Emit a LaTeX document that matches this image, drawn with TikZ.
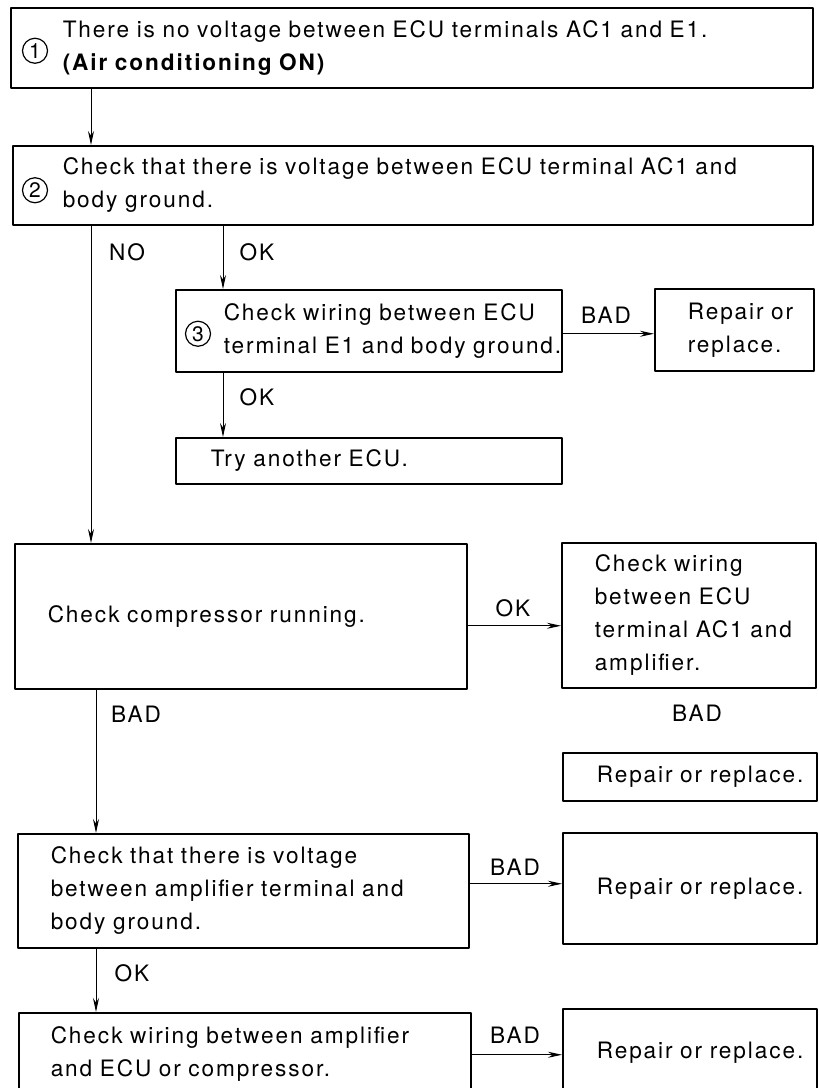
\documentclass[tikz,border=0pt]{standalone}
\usepackage{fontspec}
\setmainfont{TeX Gyre Heros}[LetterSpace=8.5]
\usetikzlibrary{arrows.meta, positioning, calc}

\begin{document}
\begin{tikzpicture}[
  x=0.5pt, y=-0.5pt,
  line cap=round, line join=round,
  font=\fontsize{11.3}{16.5}\selectfont,
  box/.style={draw, line width=0.75pt, anchor=north west, align=left, inner ysep=0pt},
  num/.style={circle, draw, line width=0.6pt, inner sep=0pt, minimum size=12.5pt, font=\fontsize{10.5}{10.5}\selectfont},
  lbl/.style={inner sep=0pt},
  flow/.style={line width=0.5pt, -{Stealth[length=7pt, width=3pt]}}
]
  \useasboundingbox (0,0) rectangle (819,1088);
  \clip (0,0) rectangle (819,1088);

  % step boxes
  \node[box, minimum height=40pt, inner xsep=26pt, text width=349pt] (b1) at (10,7)
    {There is no voltage between ECU terminals AC1 and E1.\\ \textbf{(Air conditioning ON)}};
  \node[box, minimum height=39.5pt, inner xsep=25pt, text width=350pt] (b2) at (12,145)
    {\mbox{Check that there is voltage between ECU terminal AC1 and}\\ body ground.};
  \node[box, minimum height=41pt, inner xsep=24pt, text width=145pt] (wire) at (175,289)
    {\mbox{Check wiring between ECU}\\ \mbox{terminal E1 and body ground.}};
  \node[box, minimum height=41pt, inner xsep=16.5pt, text width=46.5pt] (repA) at (654,288)
    {\mbox{Repair or}\\ replace.};
  \node[box, minimum height=23pt, inner xsep=17.5pt, text width=158pt] (try) at (175,437)
    {Try another ECU.};
  \node[box, minimum height=72.5pt, inner xsep=16.5pt, text width=193pt] (comp) at (14,543)
    {Check compressor running.};
  \node[box, minimum height=72.5pt, inner xsep=16.5pt, text width=94pt] (wireAC) at (561,542)
    {\mbox{Check wiring}\\ \mbox{between ECU}\\ \mbox{terminal AC1 and}\\ amplifier.};
  \node[box, minimum height=24pt, inner xsep=17pt, text width=93pt] (repB) at (562,752)
    {\mbox{Repair or replace.}};
  \node[box, minimum height=57pt, inner xsep=16.5pt, text width=192.5pt] (amp) at (17,833)
    {\mbox{Check that there is voltage}\\ \mbox{between amplifier terminal and}\\ body ground.};
  \node[box, minimum height=55.5pt, inner xsep=17pt, text width=93pt] (repC) at (562,832)
    {\mbox{Repair or replace.}};
  \node[box, minimum height=41pt, inner xsep=16pt, text width=194pt] (last) at (18,1012)
    {\mbox{Check wiring between amplifier}\\ \mbox{and ECU or compressor.}};
  \node[box, minimum height=44pt, inner xsep=17pt, text width=93pt] (repD) at (562,1008)
    {\mbox{Repair or replace.}};

  % circled step numbers
  \node[num] (n1) at ([xshift=12.5pt, yshift=-1.5pt]b1.west) {1};
  \node[num] (n2) at ([xshift=11.5pt, yshift=-2.5pt]b2.west) {2};
  \node[num] (n3) at ([xshift=11.5pt, yshift=-1.5pt]wire.west) {3};

  % columns of the vertical links
  \coordinate (xa) at (91,0);
  \coordinate (xb) at (223,0);
  \coordinate (xc) at (96,0);

  \draw[flow] (b1.south -| xa) -- (b2.north -| xa);
  \draw[flow] (b2.south -| xa) -- (comp.north -| xa);
  \draw[flow] (b2.south -| xb) -- (wire.north -| xb);
  \draw[flow] (wire.south -| xb) -- (try.north -| xb);
  \draw[flow] (comp.south -| xc) -- (amp.north -| xc);
  \draw[flow] (amp.south -| xc) -- (last.north -| xc);

  % horizontal links
  \coordinate (wa) at ([yshift=-1.5pt]wire.east);
  \coordinate (ca) at ([yshift=-4.75pt]comp.east);
  \coordinate (aa) at ([yshift=3.5pt]amp.east);
  \coordinate (la) at ([yshift=-0.5pt]last.east);
  \draw[flow] (wa) -- (wa -| repA.west);
  \draw[flow] (ca) -- (ca -| wireAC.west);
  \draw[flow] (aa) -- (aa -| repC.west);
  \draw[flow] (la) -- (la -| repD.west);

  % branch labels
  \node[lbl] (lno)   at (127,252) {NO};
  \node[lbl] (lok1)  at (257,252) {OK};
  \node[lbl] (lbad1) at (606,315) {BAD};
  \node[lbl] (lok2)  at (257,397) {OK};
  \node[lbl] (lok3)  at (513,608) {OK};
  \node[lbl] (lbad2) at (136,714) {BAD};
  \node[lbl] (lbad3) at (697,713) {BAD};
  \node[lbl] (lbad4) at (515,867) {BAD};
  \node[lbl] (lok4)  at (132,973) {OK};
  \node[lbl] (lbad5) at (515,1035) {BAD};
\end{tikzpicture}
\end{document}
